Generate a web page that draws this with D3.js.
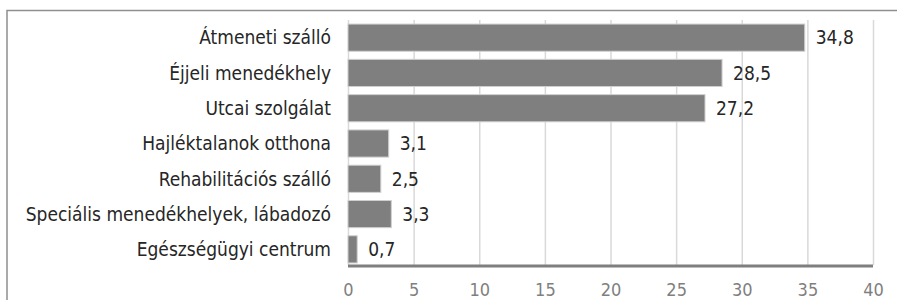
<!DOCTYPE html>
<html><head><meta charset="utf-8">
<script src="https://cdn.jsdelivr.net/npm/d3@7"></script>
<style>body{margin:0;background:#fff}svg{display:block}</style>
</head><body>
<svg id="c" width="897" height="300"></svg>
<script>
const categories = ["Átmeneti szálló","Éjjeli menedékhely","Utcai szolgálat","Hajléktalanok otthona","Rehabilitációs szálló","Speciális menedékhelyek, lábadozó","Egészségügyi centrum"];
const values = [34.8,28.5,27.2,3.1,2.5,3.3,0.7];
const ticks = [0,5,10,15,20,25,30,35,40];

const svg = d3.select("#c");
const font = "'DejaVu Sans Condensed', 'DejaVu Sans', sans-serif";
// frame
svg.append("path").attr("d","M7,310V10.5H905").attr("fill","none").attr("stroke","#8f8f8f").attr("stroke-width",1.5);

const x = d3.scaleLinear().domain([0,40]).range([348,873]);
const y = d3.scaleBand().domain(categories).range([20,267]).paddingInner(0.23).paddingOuter(0.115);

// gridlines
svg.append("g").selectAll("line").data(ticks).join("line")
  .attr("x1",d=>x(d)+0.5).attr("x2",d=>x(d)+0.5).attr("y1",20).attr("y2",265)
  .attr("stroke","#d9d9d9").attr("stroke-width",1.5);

// bars
svg.append("g").selectAll("rect").data(values).join("rect")
  .attr("x",x(0)).attr("y",(d,i)=>y(categories[i]))
  .attr("width",d=>x(d)-x(0)).attr("height",y.bandwidth())
  .attr("fill","#7f7f7f").attr("stroke","#d0d0d0").attr("stroke-width",1);

// axis line
svg.append("line").attr("x1",x(0)).attr("x2",x(40)).attr("y1",266).attr("y2",266)
  .attr("stroke","#7f7f7f").attr("stroke-width",3);

// value labels
svg.append("g").selectAll("text").data(values).join("text")
  .attr("x",d=>x(d)+11).attr("y",(d,i)=>y(categories[i])+y.bandwidth()/2)
  .attr("dy","0.36em").attr("font-family",font).attr("font-size",19).attr("fill","#262626")
  .text(d=>d3.format(".1f")(d).replace(".",","));

// category labels
svg.append("g").selectAll("text").data(categories).join("text")
  .attr("x",331).attr("y",d=>y(d)+y.bandwidth()/2).attr("text-anchor","end")
  .attr("dy","0.36em").attr("font-family",font).attr("font-size",19).attr("fill","#262626")
  .text(d=>d);

// x tick labels
const ax = d3.axisBottom(x).tickValues(ticks).tickSize(0).tickPadding(0).tickFormat(d3.format("d"));
const g = svg.append("g").attr("transform","translate(0,283)").call(ax);
g.select(".domain").remove();
g.selectAll("text").attr("font-family",font).attr("font-size",18).attr("fill","#7f7f7f");
</script>
</body></html>
